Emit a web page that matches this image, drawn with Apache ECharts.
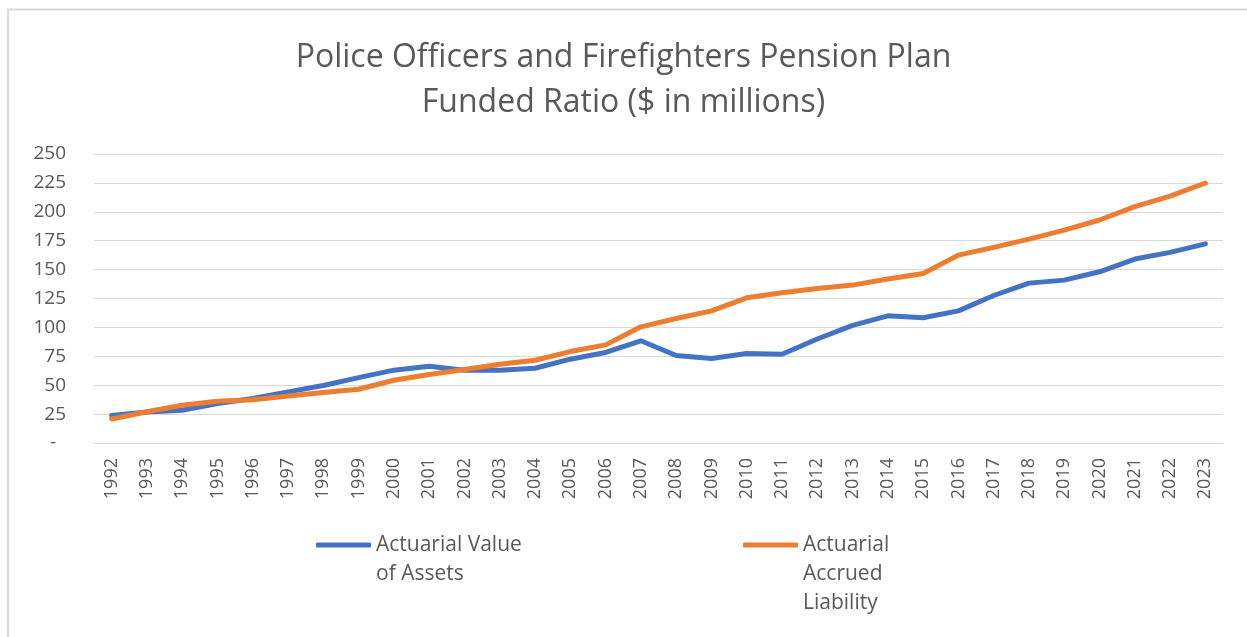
<!DOCTYPE html>
<html>
<head>
<meta charset="utf-8">
<script src="https://cdn.jsdelivr.net/npm/echarts@6/dist/echarts.min.js"></script>
<style>
html,body{margin:0;padding:0;background:#fff;}
#chart{width:1247px;height:637px;}
</style>
</head>
<body>
<div id="chart"></div>
<script>
const titleLines = ['Police Officers and Firefighters Pension Plan', 'Funded Ratio ($ in millions)'];
const years = ['1992','1993','1994','1995','1996','1997','1998','1999','2000','2001','2002','2003','2004','2005','2006','2007','2008','2009','2010','2011','2012','2013','2014','2015','2016','2017','2018','2019','2020','2021','2022','2023'];
const assetsName = 'Actuarial Value of Assets';
const liabilityName = 'Actuarial Accrued Liability';
const assets = [23.7, 26.8, 28.3, 34.1, 38.5, 44.2, 49.7, 56.6, 63.0, 66.4, 63.0, 63.0, 64.7, 72.5, 78.3, 88.4, 75.7, 73.1, 77.4, 76.8, 90.0, 101.7, 110.0, 108.3, 114.3, 127.6, 138.3, 140.9, 148.1, 159.1, 164.9, 172.3];
const liability = [20.8, 27.0, 32.6, 36.1, 37.5, 40.7, 43.6, 46.5, 54.3, 59.2, 63.5, 68.2, 71.6, 79.1, 84.9, 100.5, 107.7, 114.3, 125.6, 129.9, 133.7, 136.6, 141.8, 146.7, 162.5, 169.2, 176.4, 184.2, 192.9, 204.4, 213.6, 224.9];
const legendLines = {};
legendLines[assetsName] = ['Actuarial Value', 'of Assets'];
legendLines[liabilityName] = ['Actuarial', 'Accrued', 'Liability'];

const FONT = 'Open Sans';
const TXT = '#595959';
const LH = 29;
const LEGEND_Y = 545;

const chart = echarts.init(document.getElementById('chart'));
function legendFor(name, left) {
  const lines = legendLines[name];
  const n = lines.length;
  const text = new Array(n - 1).fill('').concat(lines).join('\n');
  const half = (2 * n - 1) * LH / 2;
  return {
    data: [name],
    left: left,
    top: LEGEND_Y - half,
    padding: 0,
    orient: 'horizontal',
    icon: 'roundRect',
    itemWidth: 55,
    itemHeight: 5,
    formatter: () => text,
    textStyle: { fontFamily: FONT, fontSize: 21, color: TXT, lineHeight: LH }
  };
}
chart.setOption({
  animation: false,
  backgroundColor: '#fff',
  graphic: [{
    type: 'rect', silent: true, z: -10,
    shape: { x: 8, y: 9.5, width: 3000, height: 3000 },
    style: { fill: 'none', stroke: '#d9d9d9', lineWidth: 2 }
  }],
  title: {
    text: titleLines.join('\n'),
    left: 'center',
    top: 35,
    padding: 0,
    textStyle: { fontFamily: FONT, fontSize: 32, fontWeight: 'normal', color: TXT, lineHeight: 45 }
  },
  grid: { left: 94, right: 24, top: 154, bottom: 194, containLabel: false },
  legend: [legendFor(assetsName, 316), legendFor(liabilityName, 743)],
  xAxis: {
    type: 'category',
    data: years,
    boundaryGap: true,
    axisLine: { show: true, lineStyle: { color: '#d9d9d9', width: 1 } },
    axisTick: { show: false },
    axisLabel: { rotate: 90, margin: 15, fontFamily: FONT, fontSize: 18, color: TXT, interval: 0 }
  },
  yAxis: {
    type: 'value',
    min: 0, max: 250, interval: 25,
    axisLine: { show: false },
    axisTick: { show: false },
    splitLine: { lineStyle: { color: '#d9d9d9', width: 1 } },
    axisLabel: {
      margin: 28, fontFamily: FONT, fontSize: 19, color: TXT,
      formatter: v => v === 0 ? '-  ' : String(v)
    }
  },
  series: [
    { name: assetsName, type: 'line', data: assets, symbol: 'none', smooth: false,
      itemStyle: { color: '#4472C4' },
      lineStyle: { color: '#4472C4', width: 5, cap: 'round', join: 'round' } },
    { name: liabilityName, type: 'line', data: liability, symbol: 'none', smooth: false,
      itemStyle: { color: '#ED7D31' },
      lineStyle: { color: '#ED7D31', width: 5, cap: 'round', join: 'round' } }
  ]
});
</script>
</body>
</html>
